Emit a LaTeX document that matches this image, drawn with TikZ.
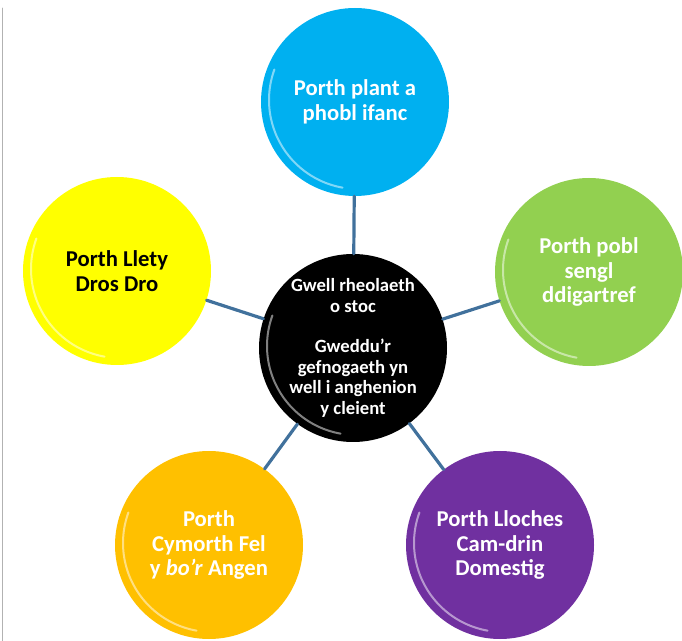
\documentclass[tikz,border=0pt]{standalone}
\usepackage{fontspec}
\setmainfont{Carlito}
\begin{document}
\begin{tikzpicture}[line join=round, line cap=round, x=0.75pt, y=-0.75pt]
    \tikzset{
        porth/.style={circle, minimum size=141pt, inner sep=0pt, align=center,
            font=\fontsize{17}{18.5}\selectfont\bfseries, text=white},
        link/.style={draw=linkblue, line width=2.4pt}
    }
    \definecolor{linkblue}{HTML}{41719C}
    \definecolor{cblue}{HTML}{00B0F0}
    \definecolor{cyellow}{HTML}{FFFF00}
    \definecolor{cgreen}{HTML}{92D050}
    \definecolor{corange}{HTML}{FFC000}
    \definecolor{cpurple}{HTML}{7030A0}
    \useasboundingbox (0,0) rectangle (682,641);
    \draw[gray!60, line width=0.6pt] (2,8) -- (2,641);
    % y porth canol a'r pump porth
    \node[porth, fill=black, font=\fontsize{14}{15.4}\selectfont\bfseries] (canol) at (353,348)
        {Gwell rheolaeth\\o stoc\\[15pt]Gweddu’r\\gefnogaeth yn\\well i anghenion\\y cleient};
    \node[porth, fill=cblue] (plant) at (355,102) {Porth plant a\\phobl ifanc};
    \node[porth, fill=cyellow, text=black] (llety) at (117,271) {Porth Llety\\Dros Dro};
    \node[porth, fill=cgreen] (sengl) at (589,272) {Porth pobl\\sengl\\ddigartref};
    \node[porth, fill=corange] (cymorth) at (209,545) {Porth\\Cymorth Fel\\y \textit{bo’r} Angen};
    \node[porth, fill=cpurple] (lloches) at (500,545) {Porth Lloches\\Cam-drin\\Domestig};
    \foreach \n in {plant,llety,sengl,cymorth,lloches}
        \draw[link] (canol) -- (\n);
    % sglein ar yr ymylon
    \foreach \n in {canol,plant,llety,sengl,cymorth,lloches}
        \draw[white, opacity=0.5, line width=1.5pt] ([shift={(3,-2)}]\n.center) ++(100:89) arc (100:200:89);
\end{tikzpicture}
\end{document}
